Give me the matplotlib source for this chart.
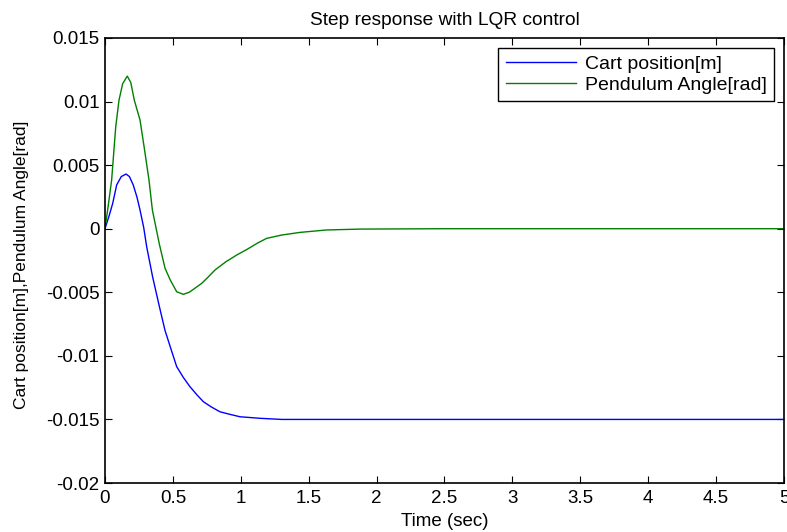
import matplotlib
matplotlib.use('Agg')
import matplotlib.pyplot as plt

plt.rcParams['font.family'] = ['Liberation Sans', 'DejaVu Sans']

# Values
t_cart = [0, 0.03, 0.057, 0.086, 0.12, 0.155, 0.18, 0.208, 0.235, 0.258, 0.285, 0.307,
          0.351, 0.40, 0.442, 0.49, 0.528, 0.577, 0.626, 0.68, 0.724, 0.78, 0.847, 0.92,
          0.994, 1.14, 1.3, 1.6, 2.0, 3.0, 4.0, 5.0]
cart = [0, 0.0010, 0.0020, 0.00344, 0.0041, 0.0043, 0.0041, 0.00344, 0.0025, 0.00147,
        0.0001, -0.00142, -0.0038, -0.0061, -0.0080, -0.0096, -0.01085, -0.0117, -0.01243,
        -0.0131, -0.0136, -0.0140, -0.0144, -0.0146, -0.01479, -0.01491, -0.0150, -0.0150,
        -0.0150, -0.0150, -0.0150, -0.0150]

t_pend = [0, 0.025, 0.049, 0.079, 0.103, 0.13, 0.164, 0.19, 0.216, 0.258, 0.29, 0.324,
          0.349, 0.40, 0.442, 0.479, 0.528, 0.577, 0.62, 0.66, 0.712, 0.76, 0.81, 0.89,
          0.97, 1.05, 1.12, 1.19, 1.30, 1.436, 1.63, 1.88, 2.5, 3.0, 4.0, 5.0]
pend = [0, 0.0019, 0.00383, 0.0080, 0.0101, 0.0114, 0.0120, 0.0115, 0.0101, 0.00855,
        0.0063, 0.00383, 0.00147, -0.0012, -0.0031, -0.0040, -0.00496, -0.00516, -0.0050,
        -0.0047, -0.0043, -0.0038, -0.00325, -0.0026, -0.00207, -0.0016, -0.00115, -0.00076,
        -0.0005, -0.00029, -0.0001, -0.00003, 0, 0, 0, 0]

fig = plt.figure(figsize=(7.87, 5.32), dpi=100)
ax = fig.add_axes([0.1334, 0.0921, 0.8628, 0.8365])

ax.plot(t_cart, cart, color=(0, 0, 1), lw=1, label='Cart position[m]')
ax.plot(t_pend, pend, color=(0, 0.5, 0), lw=1, label='Pendulum Angle[rad]')

ax.set_xlim(0, 5)
ax.set_ylim(-0.02, 0.015)
ax.set_xticks([0, 0.5, 1, 1.5, 2, 2.5, 3, 3.5, 4, 4.5, 5])
ax.set_xticklabels(['0', '0.5', '1', '1.5', '2', '2.5', '3', '3.5', '4', '4.5', '5'])
ax.set_yticks([-0.02, -0.015, -0.01, -0.005, 0, 0.005, 0.01, 0.015])
ax.set_yticklabels(['-0.02', '-0.015', '-0.01', '-0.005', '0', '0.005', '0.01', '0.015'])
ax.tick_params(direction='in', top=True, right=True, length=5, labelsize=13.5, pad=4)
ax.tick_params(axis='x', pad=5)
for s in ax.spines.values():
    s.set_linewidth(1.2)

ax.set_title('Step response with LQR control', fontsize=13.8, pad=9)
ax.set_xlabel('Time (sec)', fontsize=13.5, labelpad=4)
ax.set_ylabel('Cart position[m],Pendulum Angle[rad]', fontsize=12.5, labelpad=9)
ax.yaxis.set_label_coords(-0.112, 0.49)

leg = ax.legend(loc='upper right', fontsize=14, fancybox=False, framealpha=1,
                edgecolor='black', borderpad=0.4, handlelength=3.6, borderaxespad=0.5,
                labelspacing=0.15, handletextpad=0.45)
leg.get_frame().set_linewidth(1.0)

fig.savefig('out.png', dpi=100)
